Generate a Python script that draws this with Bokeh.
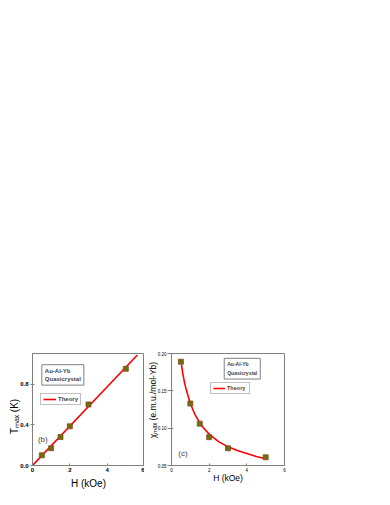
from bokeh.plotting import figure
from bokeh.layouts import column, row
from bokeh.models import Spacer, Label, Legend, LegendItem, Range1d, FixedTicker, PrintfTickFormatter
from bokeh.embed import file_html
from bokeh.resources import INLINE

# ---- data: panel (b) Au-Al-Yb, T_max vs H ----
h_b = [0.5, 1.0, 1.5, 2.0, 3.0, 5.0]
tmax_b = [0.10, 0.17, 0.28, 0.385, 0.60, 0.95]
theory_h_b = [0.0, 5.62]
theory_t_b = [0.0, 1.085]

# ---- data: panel (c) Au-Al-Yb, chi_max vs H ----
h_c = [0.5, 1.0, 1.5, 2.0, 3.0, 5.0]
chi_c = [0.189, 0.133, 0.106, 0.088, 0.073, 0.061]
theory_h_c = [0.53, 0.6, 0.7, 0.8, 1.0, 1.25, 1.5, 1.75, 2.0, 2.5, 3.0, 3.5, 4.0, 4.5, 5.0]
theory_chi_c = [0.185, 0.173, 0.160, 0.150, 0.133, 0.118, 0.107, 0.099, 0.092,
                0.082, 0.075, 0.070, 0.066, 0.062, 0.059]

x_ticks = [0, 2, 4, 6]
y_ticks_b = [0.0, 0.4, 0.8]
y_ticks_c = [0.05, 0.10, 0.15, 0.20]

FONT = "Liberation Sans"
GRAY = "#808080"
MARK_FILL = "#6e6e10"
MARK_LINE = "#8b4a1a"
NB = "\u00a0"


def base_fig(w, bl, br, xr, yr):
    p = figure(width=w, height=143, x_range=xr, y_range=yr,
               output_backend="svg", toolbar_location=None,
               min_border_left=bl, min_border_right=br,
               min_border_top=5, min_border_bottom=25)
    p.outline_line_color = GRAY
    p.outline_line_width = 1
    p.xgrid.visible = False
    p.ygrid.visible = False
    for ax in (p.xaxis[0], p.yaxis[0]):
        ax.axis_line_color = GRAY
        ax.major_tick_line_color = GRAY
        ax.minor_tick_line_color = None
        ax.major_tick_in = 2
        ax.major_tick_out = 0
        ax.major_label_text_font = FONT
        ax.axis_label_text_font = FONT
        ax.major_label_text_color = "black"
        ax.axis_label_text_color = "black"
        ax.axis_label_text_font_style = "normal"
    p.background_fill_color = "white"
    p.border_fill_color = "white"
    return p


# ---------------- panel (b) ----------------
p1 = base_fig(144, 32, 0, Range1d(0, 6), Range1d(0, 1.1))
p1.xaxis.ticker = FixedTicker(ticks=x_ticks)
p1.yaxis.ticker = FixedTicker(ticks=y_ticks_b)
p1.yaxis.formatter = PrintfTickFormatter(format="%.1f")
p1.xaxis.major_label_text_font_size = "6px"
p1.yaxis.major_label_text_font_size = "6px"
p1.xaxis.major_label_text_font_style = "bold"
p1.yaxis.major_label_text_font_style = "bold"
p1.xaxis.major_label_standoff = 2
p1.yaxis.major_tick_out = 2
p1.yaxis.major_label_standoff = 2
p1.xaxis.axis_label = "H (kOe)"
p1.xaxis.axis_label_text_font_size = "10px"
p1.xaxis.axis_label_standoff = 3
p1.yaxis.axis_label = "Tₘₐₓ (K)" + NB * 5
p1.yaxis.axis_label_text_font_size = "10px"
p1.yaxis.axis_label_standoff = -3

r_th_b = p1.line(theory_h_b, theory_t_b, line_color="red", line_width=1.6)
p1.scatter(h_b, tmax_b, marker="square", size=5, fill_color=MARK_FILL,
           line_color=MARK_LINE, line_width=0.8)

p1.add_layout(Label(x=0.55, y=0.26, text="(b)", text_align="center",
                    text_baseline="middle", text_font=FONT, text_font_size="8px"))
p1.add_layout(Label(x=0.50, y=0.99, text="Au-Al-Yb\nQuasicrystal",
                    text_align="left", text_baseline="top",
                    text_font=FONT, text_font_size="6px", text_font_style="bold",
                    text_line_height=1.4, padding=3,
                    border_line_color=GRAY, border_line_width=1,
                    background_fill_color="white"))
leg1 = Legend(items=[LegendItem(label="Theory", renderers=[r_th_b])],
              location=(8, 60), padding=2, margin=0, spacing=0,
              glyph_width=13, glyph_height=6, label_height=6, label_standoff=2,
              label_text_font=FONT, label_text_font_size="6px",
              label_text_font_style="bold",
              border_line_color=GRAY, border_line_width=1,
              background_fill_color="white", background_fill_alpha=1.0)
p1.add_layout(leg1)

# ---------------- panel (c) ----------------
p2 = base_fig(150, 27, 10, Range1d(0, 6), Range1d(0.05, 0.20))
p2.xaxis.ticker = FixedTicker(ticks=x_ticks)
p2.yaxis.ticker = FixedTicker(ticks=y_ticks_c)
p2.yaxis.formatter = PrintfTickFormatter(format="%.2f")
p2.xaxis.major_label_text_font_size = "4.5px"
p2.yaxis.major_label_text_font_size = "4.5px"
p2.xaxis.major_label_standoff = 2
p2.yaxis.major_tick_out = 4
p2.yaxis.major_label_standoff = 1
p2.xaxis.axis_label = "H (kOe)"
p2.xaxis.axis_label_text_font_size = "8.5px"
p2.xaxis.axis_label_standoff = -2
p2.yaxis.axis_label = NB * 8 + "χₘₐₓ (e.m.u./mol-Yb)"
p2.yaxis.axis_label_text_font_size = "8.5px"
p2.yaxis.axis_label_standoff = -3

r_th_c = p2.line(theory_h_c, theory_chi_c, line_color="red", line_width=1.6)
p2.scatter(h_c, chi_c, marker="square", size=5, fill_color=MARK_FILL,
           line_color=MARK_LINE, line_width=0.8)

p2.add_layout(Label(x=0.61, y=0.066, text="(c)", text_align="center",
                    text_baseline="middle", text_font=FONT, text_font_size="8px"))
p2.add_layout(Label(x=2.80, y=0.1935, text="Au-Al-Yb\nQuasicrystal",
                    text_align="left", text_baseline="top",
                    text_font=FONT, text_font_size="5px", text_font_style="bold",
                    text_line_height=1.45, padding=3,
                    border_line_color=GRAY, border_line_width=1,
                    background_fill_color="white"))
leg2 = Legend(items=[LegendItem(label="Theory", renderers=[r_th_c])],
              location=(39, 71), padding=2, margin=0, spacing=0,
              glyph_width=12, glyph_height=6, label_height=6, label_standoff=2,
              label_text_font=FONT, label_text_font_size="5.5px",
              label_text_font_style="bold",
              border_line_color=GRAY, border_line_width=1,
              background_fill_color="white", background_fill_alpha=1.0)
p2.add_layout(leg2)

layout = column(Spacer(width=294, height=348), row(p1, p2))

open("out.html", "w").write(file_html(layout, INLINE))
